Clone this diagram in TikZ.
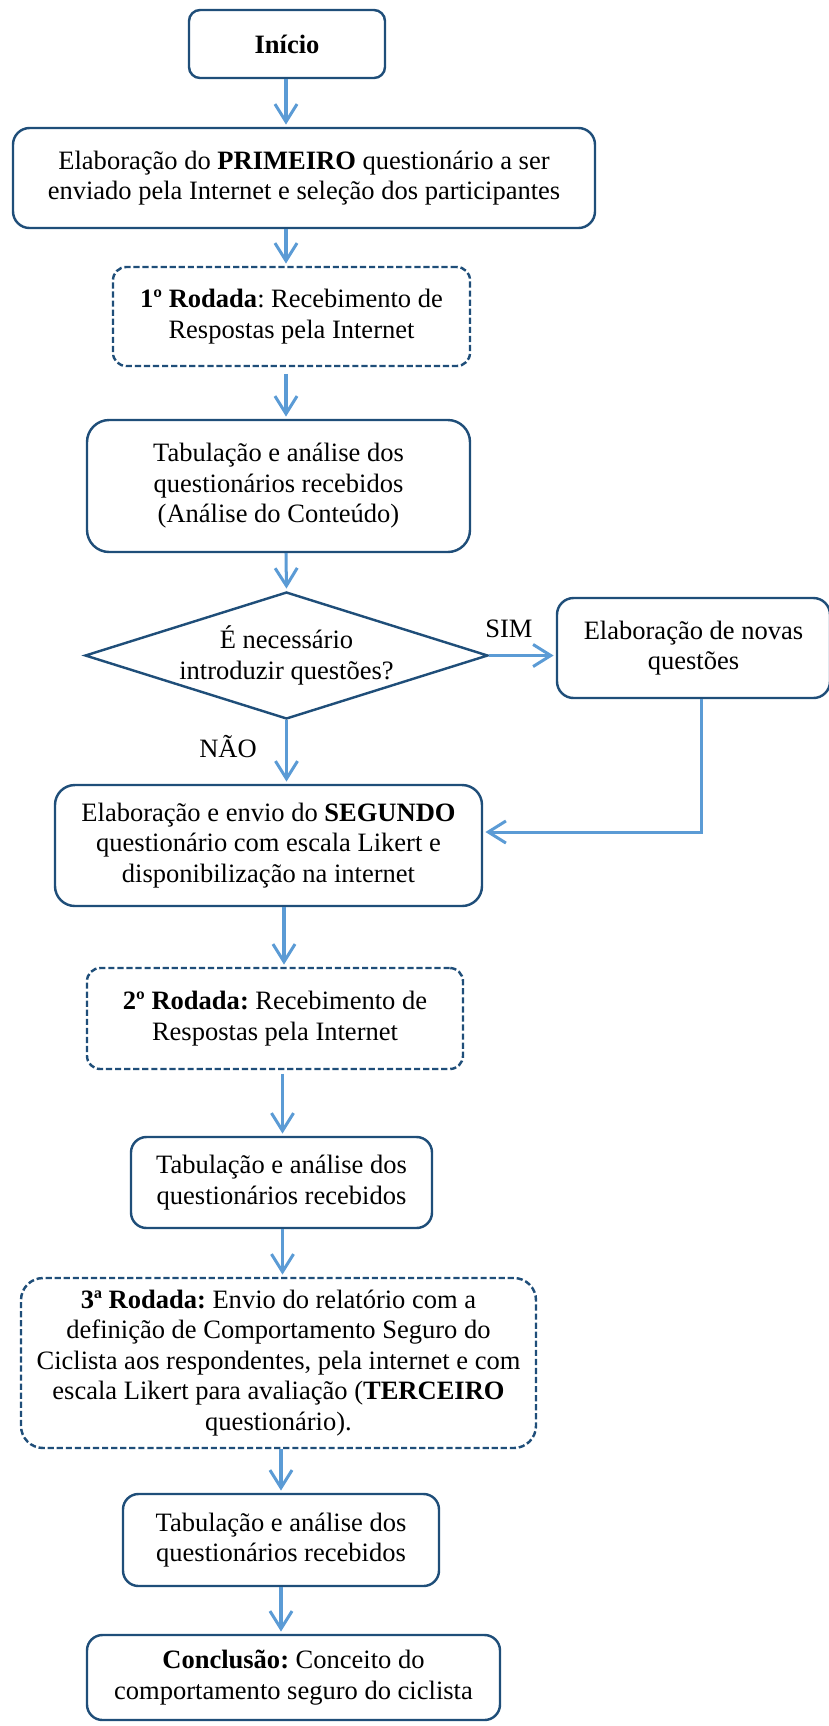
\documentclass[tikz,border=0pt]{standalone}
\usepackage{fontspec}
\setmainfont{Liberation Serif}
\usetikzlibrary{shapes.geometric,arrows.meta}
\definecolor{edgeblue}{HTML}{1F4E79}
\definecolor{flowblue}{HTML}{5B9BD5}
\def\pxu{0.4525pt}
\frenchspacing
\begin{document}
\begin{tikzpicture}[x=\pxu, y=-\pxu,
  every node/.style={font=\fontsize{12}{13.8}\selectfont},
  box/.style={draw=edgeblue, line width=1.1pt, align=center, inner sep=0pt, fill=white},
  dbox/.style={box, dash pattern=on 2.8pt off 1.3pt},
  sz/.style 2 args={minimum width=#1*\pxu, minimum height=#2*\pxu},
  flow/.style={draw=flowblue, line width=1.36pt, shorten >=1pt,
    -{Straight Barb[length=8pt, width=10pt]}},
  lbl/.style={inner sep=0pt, anchor=base}]
\useasboundingbox (0,0) rectangle (829,1726);

% process boxes, top to bottom
\node[box, sz={196}{68}, rounded corners=5pt] (inicio) at (287,44) {\textbf{Início}};
\node[box, sz={582}{100}, rounded corners=7.5pt] (prim) at (304,178)
  {Elaboração do \textbf{PRIMEIRO} questionário a ser\\enviado pela Internet e seleção dos participantes};
\node[dbox, sz={357}{99}, rounded corners=6pt] (rod1) at (291.5,316.5)
  {\textbf{1º Rodada}: Recebimento de\\Respostas pela Internet};
\node[box, sz={383}{132}, rounded corners=10pt] (tab1) at (278.5,486)
  {Tabulação e análise dos\\questionários recebidos\\(Análise do Conteúdo)};
\node[box, shape=diamond, aspect=3.17, sz={403}{127}] (dia) at (286.5,655.5)
  {É necessário\\introduzir questões?};
\node[box, sz={273}{100}, rounded corners=7.5pt] (novas) at (693.5,648)
  {Elaboração de novas\\questões};
\node[box, sz={427}{121}, rounded corners=9pt] (seg) at (268.5,845.5)
  {Elaboração e envio do \textbf{SEGUNDO}\\questionário com escala Likert e\\disponibilização na internet};
\node[dbox, sz={376}{101}, rounded corners=6pt] (rod2) at (275,1018.5)
  {\textbf{2º Rodada:} Recebimento de\\Respostas pela Internet};
\node[box, sz={301}{91}, rounded corners=7pt] (tab2) at (281.5,1182.5)
  {Tabulação e análise dos\\questionários recebidos};
\node[dbox, sz={515}{170}, rounded corners=10pt] (rod3) at (278.5,1363)
  {\textbf{3ª Rodada:} Envio do relatório com a\\definição de Comportamento Seguro do\\Ciclista aos respondentes, pela internet e com\\escala Likert para avaliação (\textbf{TERCEIRO}\\questionário).};
\node[box, sz={316}{92}, rounded corners=7pt] (tab3) at (281,1540)
  {Tabulação e análise dos\\questionários recebidos};
\node[box, sz={413}{85}, rounded corners=7pt] (conc) at (293.5,1677.5)
  {\textbf{Conclusão:} Conceito do\\comportamento seguro do ciclista};

% branch labels
\node[lbl] (sim) at (509,637) {SIM};
\node[lbl] (nao) at (228,757) {NÃO};

% columns of the vertical connectors
\coordinate (c1) at (286,0);
\coordinate (c2) at (284,0);
\coordinate (c3) at (282.5,0);
\coordinate (c4) at (281,0);
\coordinate (e1) at (701,832);

% connectors
\draw[flow] (inicio.south -| c1) -- (prim.north -| c1);
\draw[flow] (prim.south -| c1) -- (rod1.north -| c1);
\draw[flow, shorten <=3pt] (rod1.south -| c1) -- (tab1.north -| c1);
\draw[flow] (tab1.south -| c1) -- (dia.north);
\draw[flow] (dia.south) -- (seg.north -| dia.south);
\draw[flow] (dia.east) -- (dia.east -| novas.west);
\draw[flow] (novas.south -| e1) |- (seg.east |- e1);
\draw[flow] (seg.south -| c2) -- (rod2.north -| c2);
\draw[flow, shorten <=1.5pt] (rod2.south -| c3) -- (tab2.north -| c3);
\draw[flow] (tab2.south -| c3) -- (rod3.north -| c3);
\draw[flow] (rod3.south -| c4) -- (tab3.north -| c4);
\draw[flow] (tab3.south -| c4) -- (conc.north -| c4);
\end{tikzpicture}
\end{document}
